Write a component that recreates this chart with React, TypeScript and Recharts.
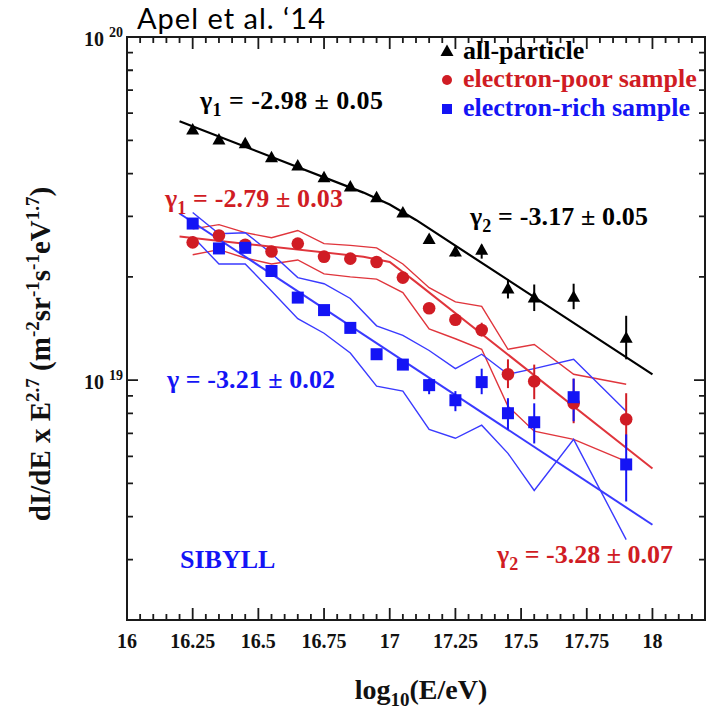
import React from 'react';
import { ComposedChart, Line, Scatter, XAxis, YAxis, ErrorBar, ReferenceArea, Legend } from 'recharts';

// energy bins, log10(E/eV)
const energyBins = [16.25, 16.35, 16.45, 16.55, 16.65, 16.75, 16.85, 16.95, 17.05, 17.15, 17.25, 17.35, 17.45, 17.55, 17.7, 17.9];

// all-particle spectrum, dI/dE x E^2.7
const allParticle = [5.38e19, 5.03e19, 4.9e19, 4.46e19, 4.22e19, 3.9e19, 3.67e19, 3.41e19, 3.08e19, 2.58e19, 2.37e19, 2.4e19, 1.85e19, 1.74e19, 1.75e19, 1.33e19];
const allParticleLow = [5.38e19, 5.03e19, 4.9e19, 4.46e19, 4.22e19, 3.9e19, 3.67e19, 3.41e19, 3.05e19, 2.54e19, 2.29e19, 2.26e19, 1.73e19, 1.59e19, 1.61e19, 1.15e19];
const allParticleHigh = [5.38e19, 5.03e19, 4.9e19, 4.46e19, 4.22e19, 3.9e19, 3.67e19, 3.41e19, 3.11e19, 2.62e19, 2.45e19, 2.48e19, 1.97e19, 1.9e19, 1.91e19, 1.54e19];

// electron-poor (heavy) sample
const electronPoor = [2.52e19, 2.64e19, 2.48e19, 2.37e19, 2.5e19, 2.29e19, 2.26e19, 2.21e19, 1.99e19, 1.62e19, 1.5e19, 1.4e19, 1.04e19, 9.93e18, 8.56e18, 7.69e18];
const electronPoorLow = [2.52e19, 2.64e19, 2.48e19, 2.37e19, 2.5e19, 2.29e19, 2.26e19, 2.21e19, 1.97e19, 1.59e19, 1.45e19, 1.34e19, 9.48e18, 8.8e18, 7.49e18, 6.41e18];
const electronPoorHigh = [2.52e19, 2.64e19, 2.48e19, 2.37e19, 2.5e19, 2.29e19, 2.26e19, 2.21e19, 2.01e19, 1.66e19, 1.55e19, 1.47e19, 1.15e19, 1.11e19, 1.01e19, 9.16e18];
const electronPoorBandUp = [2.76e19, 2.84e19, 2.69e19, 2.6e19, 2.73e19, 2.5e19, 2.47e19, 2.43e19, 2.18e19, 1.86e19, 1.69e19, 1.64e19, 1.23e19, 1.27e19, 1.04e19, 9.73e18];
const electronPoorBandDown = [2.32e19, 2.4e19, 2.27e19, 2.18e19, 2.24e19, 2.04e19, 2.0e19, 1.97e19, 1.8e19, 1.41e19, 1.32e19, 1.23e19, 8.39e18, 7.1e18, 6.72e18, 5.8e18];

// electron-rich (light) sample
const electronRich = [2.86e19, 2.42e19, 2.43e19, 2.08e19, 1.74e19, 1.6e19, 1.42e19, 1.19e19, 1.11e19, 9.67e18, 8.74e18, 9.87e18, 8.01e18, 7.54e18, 8.92e18, 5.68e18];
const electronRichLow = [2.86e19, 2.42e19, 2.43e19, 2.08e19, 1.74e19, 1.6e19, 1.42e19, 1.19e19, 1.11e19, 9.1e18, 8.12e18, 9.1e18, 7.19e18, 6.54e18, 7.59e18, 4.43e18];
const electronRichHigh = [2.86e19, 2.42e19, 2.43e19, 2.08e19, 1.74e19, 1.6e19, 1.42e19, 1.19e19, 1.11e19, 1.01e19, 9.29e18, 1.08e19, 8.86e18, 8.56e18, 1.01e19, 6.95e18];
const electronRichBandUp = [3.08e19, 2.67e19, 2.69e19, 2.34e19, 1.99e19, 1.91e19, 1.73e19, 1.44e19, 1.35e19, 1.22e19, 1.08e19, 1.19e19, 1.04e19, 1.08e19, 1.15e19, 8.12e18];
const electronRichBandDown = [2.62e19, 2.18e19, 2.18e19, 1.82e19, 1.51e19, 1.37e19, 1.2e19, 9.61e18, 9.29e18, 7.19e18, 6.77e18, 7.39e18, 6.12e18, 4.77e18, 6.72e18, 3.43e18];

// fitted power laws (read at their end points / knee)
const fitAllX = [16.2, 16.9, 17.0, 17.1, 18.0];
const fitAllY = [5.68e19, 3.52e19, 3.25e19, 2.93e19, 1.04e19];
const fitPoorX = [16.2, 16.9, 17.0, 17.1, 18.0];
const fitPoorY = [2.62e19, 2.29e19, 2.21e19, 1.93e19, 5.53e18];
const fitRichX = [16.2, 18.0];
const fitRichY = [3.06e19, 3.79e18];

// axes
const xMajorTicks = [16, 16.25, 16.5, 16.75, 17, 17.25, 17.5, 17.75, 18];
const xTickLabels = ['16', '16.25', '16.5', '16.75', '17', '17.25', '17.5', '17.75', '18'];
const yMajorTicks = [1e19, 1e20];
const yTickLabels = ['19', '20'];

const BLACK = '#000000';
const RED = '#d01c24';
const RED_LINE = '#e0353c';
const BLUE = '#1414f5';
const BLUE_LINE = '#3a3aff';
const SERIF = '"Liberation Serif", "Times New Roman", serif';
const AXIS = '#1a1a1a';

const W = 710;
const H = 714;
const MARGIN = { top: 37, right: 5, bottom: 0, left: 0 };
const Y_AXIS_W = 127;
const X_AXIS_H = 94;
const X_DOMAIN: [number, number] = [16, 18.2];
const Y_DOMAIN: [number, number] = [2e18, 1e20];

// plot rectangle implied by the margins and axis sizes above
const PLOT = {
  left: MARGIN.left + Y_AXIS_W,
  right: W - MARGIN.right,
  top: MARGIN.top,
  bottom: H - MARGIN.bottom - X_AXIS_H,
};

const xMinorTicks: number[] = [];
for (let i = 0; i <= 44; i++) xMinorTicks.push(Math.round((16 + i * 0.05) * 100) / 100);
const yMinorTicks: number[] = [];
for (let d = 18; d <= 19; d++) for (let m = 1; m <= 9; m++) if (!(d === 18 && m === 1)) yMinorTicks.push(m * Math.pow(10, d));
yMinorTicks.push(1e20);

const isXMajor = (v: number) => xMajorTicks.some((t) => Math.abs(t - v) < 1e-6);
const isYMajor = (v: number) => yMajorTicks.some((t) => Math.abs(t - v) / t < 1e-6);

// same mapping as the chart's linear x / log y axes, used only for the frame tick marks
const tickPx = (v: number) => PLOT.left + ((v - X_DOMAIN[0]) / (X_DOMAIN[1] - X_DOMAIN[0])) * (PLOT.right - PLOT.left);
const tickPy = (v: number) =>
  PLOT.bottom - ((Math.log10(v) - Math.log10(Y_DOMAIN[0])) / (Math.log10(Y_DOMAIN[1]) - Math.log10(Y_DOMAIN[0]))) * (PLOT.bottom - PLOT.top);

const pts = (xs: number[], ys: number[]) => xs.map((x, i) => ({ x, y: ys[i] }));
const withErr = (ys: number[], lo: number[], hi: number[]) =>
  energyBins.map((x, i) => ({ x, y: ys[i], err: [ys[i] - lo[i], hi[i] - ys[i]] }));

const allData = withErr(allParticle, allParticleLow, allParticleHigh);
const poorData = withErr(electronPoor, electronPoorLow, electronPoorHigh);
const richData = withErr(electronRich, electronRichLow, electronRichHigh);

const Triangle = (p: any) => (
  <polygon points={`${p.cx},${p.cy - 6.5} ${p.cx + 6.5},${p.cy + 5} ${p.cx - 6.5},${p.cy + 5}`} fill={BLACK} />
);
const Dot = (p: any) => <circle cx={p.cx} cy={p.cy} r={6.3} fill={RED} />;
const Box = (p: any) => <rect x={p.cx - 6} y={p.cy - 6} width={12} height={12} fill={BLUE} />;

const XLabel = (props: any) => {
  const idx = xMajorTicks.findIndex((t) => Math.abs(t - props.payload.value) < 1e-6);
  if (idx < 0) return <g />;
  return (
    <text x={props.x} y={648} textAnchor="middle" fontFamily={SERIF} fontWeight="bold" fontSize={20} fill="#111">
      {xTickLabels[idx]}
    </text>
  );
};

const YLabel = (props: any) => {
  const idx = yMajorTicks.findIndex((t) => Math.abs(t - props.payload.value) / t < 1e-6);
  if (idx < 0) return <g />;
  return (
    <text x={123} y={props.y + 9} textAnchor="end" fontFamily={SERIF} fontWeight="bold" fontSize={20} fill="#111">
      10
      <tspan dx={5} dy={-9} fontSize={14}>
        {yTickLabels[idx]}
      </tspan>
    </text>
  );
};

const legendRows: Record<string, { y: number; marker: 'tri' | 'dot' | 'box' }> = {
  'all-particle': { y: 29, marker: 'tri' },
  'electron-poor sample': { y: 57, marker: 'dot' },
  'electron-rich sample': { y: 86, marker: 'box' },
};

const LegendBox = (props: any) => {
  const payload = (props.payload || []).filter((e: any) => legendRows[e.value]);
  return (
    <svg width={275} height={100} style={{ display: 'block', overflow: 'visible' }}>
      {payload.map((e: any) => {
        const row = legendRows[e.value];
        const cy = row.y - 7;
        return (
          <g key={e.value}>
            {row.marker === 'tri' && <Triangle cx={12} cy={cy - 1} />}
            {row.marker === 'dot' && <circle cx={12} cy={cy} r={5} fill={RED} />}
            {row.marker === 'box' && <rect x={7} y={cy - 5} width={10} height={10} fill={BLUE} />}
            <text x={28} y={row.y} fontFamily={SERIF} fontWeight="bold" fontSize={26} fill={e.color}>
              {e.value}
            </text>
          </g>
        );
      })}
    </svg>
  );
};

const Gamma = ({ x, y, sub, rest, color, len }: any) => (
  <text x={x} y={y} fontFamily={SERIF} fontWeight="bold" fontSize={26} fill={color} textLength={len} lengthAdjust="spacing">
    γ
    {sub && (
      <tspan dy={7} fontSize={18}>
        {sub}
      </tspan>
    )}
    <tspan dy={sub ? -7 : 0}>{rest}</tspan>
  </text>
);

const seriesLine = (key: string, data: any[], color: string, width: number) => (
  <Line
    key={key}
    data={data}
    dataKey="y"
    stroke={color}
    strokeWidth={width}
    dot={false}
    activeDot={false}
    legendType="none"
    isAnimationActive={false}
  />
);

const FrameTicks = () => {
  let d = '';
  xMinorTicks.forEach((v) => {
    const x = tickPx(v);
    const len = isXMajor(v) ? 12 : 6;
    d += `M${x},${PLOT.bottom}v${-len}M${x},${PLOT.top}v${len}`;
  });
  yMinorTicks.forEach((v) => {
    const y = tickPy(v);
    const len = isYMajor(v) ? 11 : 6;
    d += `M${PLOT.left},${y}h${len}M${PLOT.right},${y}h${-len}`;
  });
  return <path d={d} stroke={AXIS} strokeWidth={1.8} fill="none" />;
};

export default function App() {
  return (
    <div style={{ position: 'absolute', left: 0, top: 0, width: W, height: H, background: '#fff' }}>
      <ComposedChart width={W} height={H} margin={MARGIN}>
        <XAxis
          type="number"
          dataKey="x"
          domain={X_DOMAIN}
          ticks={xMajorTicks}
          interval={0}
          allowDataOverflow
          axisLine={false}
          tickLine={false}
          tickSize={0}
          tick={(p: any) => <XLabel {...p} />}
          height={X_AXIS_H}
        />
        <YAxis
          type="number"
          dataKey="y"
          scale="log"
          domain={Y_DOMAIN}
          ticks={yMajorTicks}
          interval={0}
          allowDataOverflow
          axisLine={false}
          tickLine={false}
          tickSize={0}
          tick={(p: any) => <YLabel {...p} />}
          width={Y_AXIS_W}
        />

        <ReferenceArea x1={16} x2={18.2} y1={2e18} y2={1e20} fill="none" stroke={AXIS} strokeWidth={2} ifOverflow="visible" />

        {seriesLine('poorUp', pts(energyBins, electronPoorBandUp), RED_LINE, 1.4)}
        {seriesLine('poorDown', pts(energyBins, electronPoorBandDown), RED_LINE, 1.4)}
        {seriesLine('richUp', pts(energyBins, electronRichBandUp), BLUE_LINE, 1.4)}
        {seriesLine('richDown', pts(energyBins, electronRichBandDown), BLUE_LINE, 1.4)}
        {seriesLine('poorFit', pts(fitPoorX, fitPoorY), RED_LINE, 2)}
        {seriesLine('richFit', pts(fitRichX, fitRichY), BLUE_LINE, 2)}
        {seriesLine('allFit', pts(fitAllX, fitAllY), BLACK, 2.2)}

        <Scatter name="all-particle" data={allData} fill={BLACK} shape={Triangle} isAnimationActive={false}>
          <ErrorBar dataKey="err" direction="y" width={0} stroke={BLACK} strokeWidth={2} />
        </Scatter>
        <Scatter name="electron-poor sample" data={poorData} fill={RED} shape={Dot} isAnimationActive={false}>
          <ErrorBar dataKey="err" direction="y" width={0} stroke={RED} strokeWidth={2} />
        </Scatter>
        <Scatter name="electron-rich sample" data={richData} fill={BLUE} shape={Box} isAnimationActive={false}>
          <ErrorBar dataKey="err" direction="y" width={0} stroke={BLUE} strokeWidth={2} />
        </Scatter>

        <Legend
          layout="vertical"
          align="center"
          verticalAlign="middle"
          wrapperStyle={{ left: 435, top: 30, width: 275, height: 100 }}
          content={(p: any) => <LegendBox {...p} />}
        />
      </ComposedChart>

      <svg width={W} height={H} style={{ position: 'absolute', left: 0, top: 0, pointerEvents: 'none' }}>
        <FrameTicks />

        <text x={137} y={29} fontFamily="Lato, 'Open Sans', sans-serif" fontSize={29} fill="#000" textLength={188} lengthAdjust="spacing">
          Apel et al. ‘14
        </text>

        <Gamma x={200} y={109} sub="1" rest=" = -2.98 ± 0.05" color={BLACK} len={183} />
        <Gamma x={165} y={207} sub="1" rest=" = -2.79 ± 0.03" color={RED} len={178} />
        <Gamma x={470} y={225} sub="2" rest=" = -3.17 ± 0.05" color={BLACK} len={178} />
        <Gamma x={167} y={388} rest=" = -3.21 ± 0.02" color={BLUE} len={168} />
        <Gamma x={497} y={563} sub="2" rest=" = -3.28 ± 0.07" color={RED} len={176} />
        <text x={180} y={568} fontFamily={SERIF} fontWeight="bold" fontSize={26} fill={BLUE}>
          SIBYLL
        </text>

        <text x={421} y={699} textAnchor="middle" fontFamily={SERIF} fontWeight="bold" fontSize={28} fill="#111">
          log
          <tspan dy={7} fontSize={19}>
            10
          </tspan>
          <tspan dy={-7}>(E/eV)</tspan>
        </text>

        <text x={50} y={354} transform="rotate(-90 50 354)" textAnchor="middle" fontFamily={SERIF} fontWeight="bold" fontSize={29} fill="#111">
          dI/dE x E
          <tspan dy={-11} fontSize={19}>2.7</tspan>
          <tspan dy={11}> (m</tspan>
          <tspan dy={-11} fontSize={19}>-2</tspan>
          <tspan dy={11}>sr</tspan>
          <tspan dy={-11} fontSize={19}>-1</tspan>
          <tspan dy={11}>s</tspan>
          <tspan dy={-11} fontSize={19}>-1</tspan>
          <tspan dy={11}>eV</tspan>
          <tspan dy={-11} fontSize={19}>1.7</tspan>
          <tspan dy={11}>)</tspan>
        </text>
      </svg>
    </div>
  );
}
